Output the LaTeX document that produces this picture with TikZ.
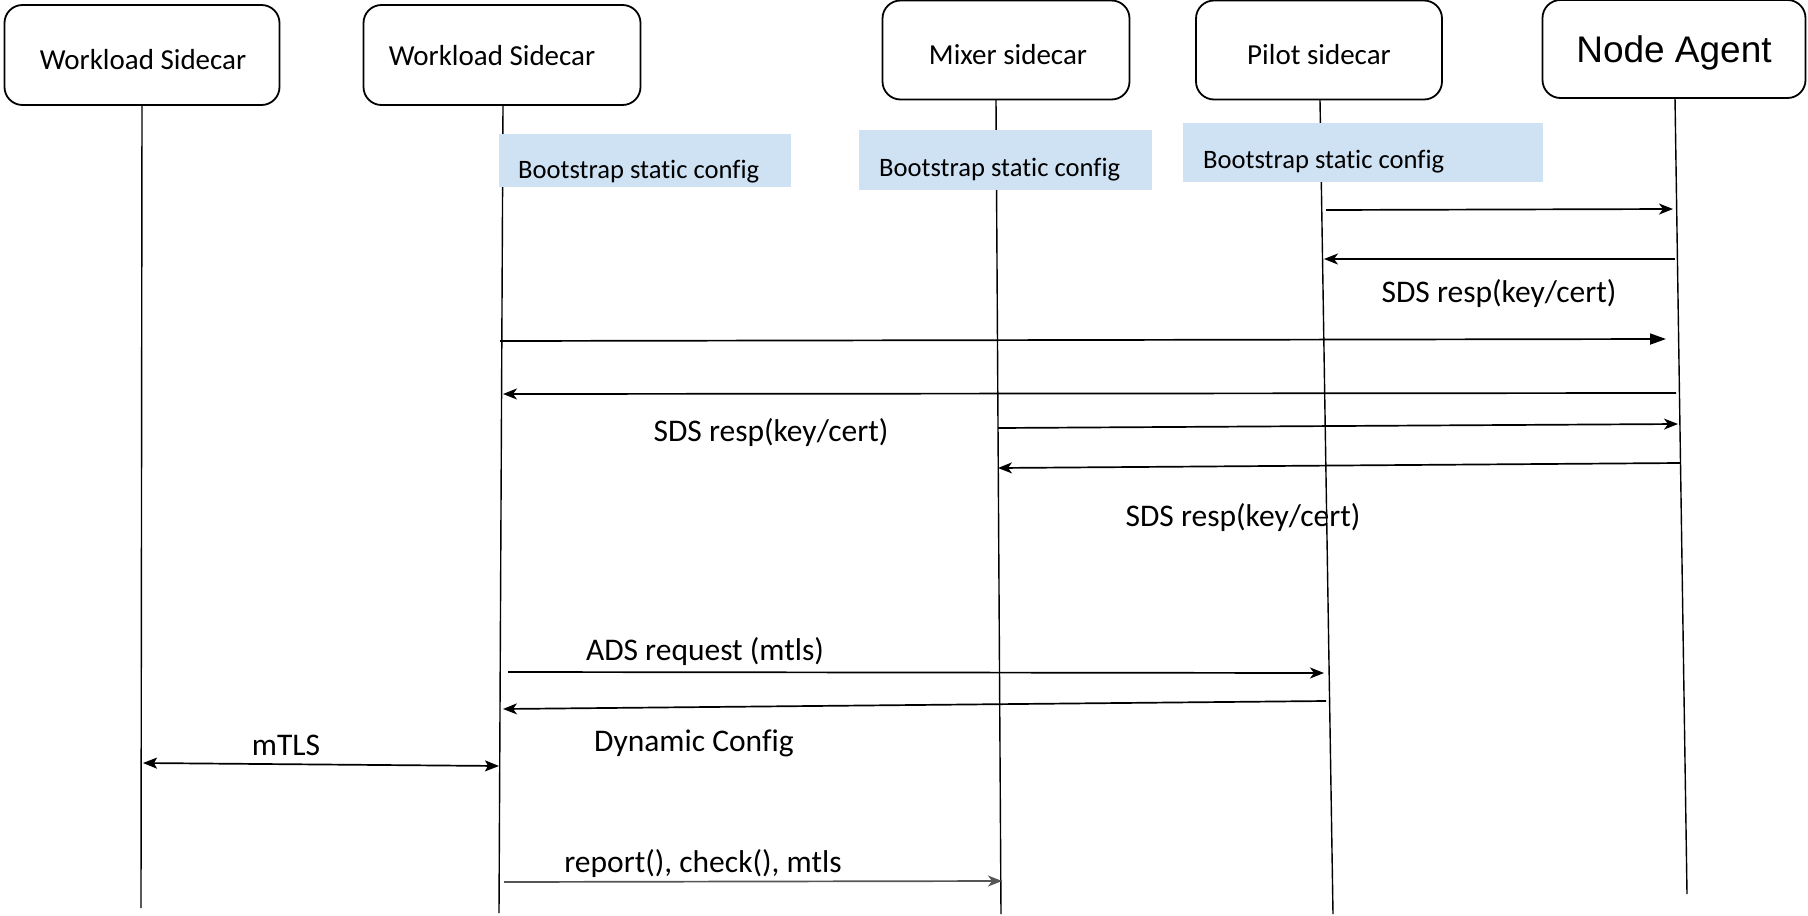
\documentclass[tikz,border=0pt]{standalone}
\usepackage{fontspec}
\setmainfont[Ligatures={NoCommon,NoContextual},Contextuals=NoAlternate]{Carlito}
\newfontfamily\arialf{Liberation Sans}
\usetikzlibrary{arrows.meta}
\definecolor{bootblue}{HTML}{CFE2F3}
\definecolor{msggray}{HTML}{555555}
\begin{document}
\begin{tikzpicture}[x=1pt,y=-1pt,
  actor/.style={draw, line width=1.8pt, rounded corners=18pt, inner sep=0pt},
  actortext/.style={inner sep=0pt, font=\fontsize{29}{34}\selectfont},
  life/.style={line width=1.4pt},
  boot/.style={fill=bootblue, inner sep=0pt},
  boottext/.style={anchor=west, inner sep=0pt, font=\fontsize{26.6}{30}\selectfont},
  msg/.style={line width=1.7pt, -{Stealth[length=14pt,width=11pt,inset=4pt]}},
  msgfill/.style={line width=1.7pt, -{Triangle[length=16pt,width=11pt]}},
  lbl/.style={inner sep=0pt, font=\fontsize{31.5}{36}\selectfont}]
\useasboundingbox (0,0) rectangle (1808,916);

% actors
\node[actor, minimum width=275pt, minimum height=100pt] (ws1) at (142,55) {};
\node[actortext] (ws1t) at (143,60) {Workload Sidecar};
\node[actor, minimum width=277pt, minimum height=100pt] (ws2) at (502,55) {};
\node[actortext] (ws2t) at (492,56) {Workload Sidecar};
\node[actor, minimum width=247pt, minimum height=99pt] (mix) at (1006,50) {};
\node[actortext] (mixt) at (1008,55) {Mixer sidecar};
\node[actor, minimum width=246pt, minimum height=99pt] (pil) at (1319,50) {};
\node[actortext] (pilt) at (1319,55) {Pilot sidecar};
\node[actor, minimum width=263pt, minimum height=98pt] (na) at (1674,49) {};
\node[actortext, font=\arialf\fontsize{37}{42}\selectfont] (nat) at (1674,52.5) {Node Agent};

% lifeline ends
\coordinate (l1t) at (142,105);  \coordinate (l1b) at (141,908);
\coordinate (l2t) at (503,105);  \coordinate (l2b) at (499,913);
\coordinate (l3t) at (996,100);  \coordinate (l3b) at (1001,914);
\coordinate (l4t) at (1320,100); \coordinate (l4b) at (1333,914);
\coordinate (l5t) at (1675,98);  \coordinate (l5b) at (1687,894);
\draw[life] (l1t) -- (l1b);
\draw[life] (l2t) -- (l2b);
\draw[life] (l3t) -- (l3b);
\draw[life] (l4t) -- (l4b);
\draw[life] (l5t) -- (l5b);

% bootstrap boxes
\node[boot, minimum width=292pt, minimum height=53pt] (b1) at (645,160.5) {};
\node[boottext] (b1t) at (518,172) {Bootstrap static config};
\node[boot, minimum width=293pt, minimum height=60pt] (b2) at (1005.5,160) {};
\node[boottext] (b2t) at (879,170) {Bootstrap static config};
\node[boot, minimum width=360pt, minimum height=59pt] (b3) at (1363,152.5) {};
\node[boottext] (b3t) at (1203,162) {Bootstrap static config};

% message end points
\coordinate (a1s) at (1326,210); \coordinate (a1e) at (1673,209);
\coordinate (a2s) at (1675,259); \coordinate (a2e) at (1324,259);
\coordinate (a3s) at (500,341);  \coordinate (a3e) at (1666,339);
\coordinate (a4s) at (1676,393); \coordinate (a4e) at (503,394);
\coordinate (a5s) at (998,428);  \coordinate (a5e) at (1678,424);
\coordinate (a6s) at (1680,463); \coordinate (a6e) at (998,468);
\coordinate (a7s) at (508,672);  \coordinate (a7e) at (1324,673);
\coordinate (a8s) at (1326,701); \coordinate (a8e) at (503,709);
\coordinate (a9s) at (143,763);  \coordinate (a9e) at (499,766);
\coordinate (a10s) at (504,882); \coordinate (a10e) at (1002,881);

\draw[msg] (a1s) -- (a1e);
\draw[msg] (a2s) -- (a2e);
\node[lbl] (t1) at (1499,293.5) {SDS resp(key/cert)};
\draw[msgfill] (a3s) -- (a3e);
\draw[msg] (a4s) -- (a4e);
\node[lbl] (t2) at (771,432.5) {SDS resp(key/cert)};
\draw[msg] (a5s) -- (a5e);
\draw[msg] (a6s) -- (a6e);
\node[lbl] (t3) at (1243,518) {SDS resp(key/cert)};
\draw[msg] (a7s) -- (a7e);
\node[lbl] (t4) at (705,651.5) {ADS request (mtls)};
\draw[msg] (a8s) -- (a8e);
\node[lbl] (t5) at (694,743.5) {Dynamic Config};
\draw[line width=1.7pt, {Stealth[length=14pt,width=11pt,inset=3pt]}-{Stealth[length=14pt,width=11pt,inset=3pt]}] (a9s) -- (a9e);
\node[lbl] (t6) at (286,745.5) {mTLS};
\draw[msg, msggray] (a10s) -- (a10e);
\node[lbl] (t7) at (703,863.5) {report(), check(), mtls};
\end{tikzpicture}
\end{document}
